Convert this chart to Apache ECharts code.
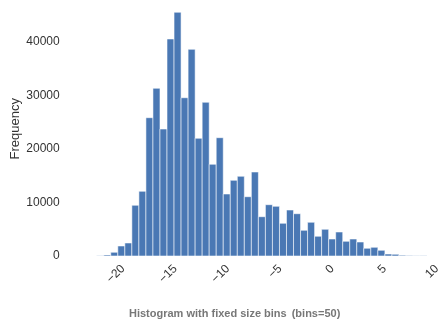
<!DOCTYPE html>
<html>
<head>
<meta charset="utf-8">
<script src="https://cdn.jsdelivr.net/npm/echarts@6/dist/echarts.min.js"></script>
<style>
  html, body { margin: 0; padding: 0; background: #fff; }
  #chart { width: 443px; height: 320px; }
</style>
</head>
<body>
<div id="chart"></div>
<script>
// fixed size bins (bins=50)
const binStart = -23.47
const binWidth = 0.672
const counts = [
  10, 40, 200, 690, 1870, 2430, 9460, 12070, 25800, 31290,
  23690, 40490, 45470, 29530, 38560, 21960, 28680, 17110, 22070, 11570,
  14120, 14870, 11060, 15670, 7330, 9570, 9270, 6100, 8580, 7890,
  4790, 6290, 3680, 4980, 3170, 4480, 2740, 3170, 2610, 1440,
  1620, 1060, 370, 320, 150, 90, 50, 25, 10, 5
]
const xTicks = [-20, -15, -10, -5, 0, 5, 10]
const yTicks = [0, 10000, 20000, 30000, 40000]

const bins = counts.map((c, i) => [binStart + i * binWidth, binStart + (i + 1) * binWidth, c])

const chart = echarts.init(document.getElementById('chart'), null, { renderer: 'canvas' })

const font = '"Liberation Sans", Arial, sans-serif'

chart.setOption({
  animation: false,
  title: {
    text: '{b|Histogram with fixed size bins} {n|(bins=50)}',
    left: 124,
    top: 300,
    textStyle: {
      rich: {
        b: { fontFamily: font, fontSize: 11, fontWeight: 'bold', color: '#777' },
        n: { fontFamily: font, fontSize: 11, color: '#777' }
      }
    }
  },
  grid: {
    left: 73.7,
    right: 0.1,
    top: 1.4,
    bottom: 64,
    outerBoundsMode: 'none'
  },
  xAxis: {
    type: 'value',
    min: -25,
    max: 10.3,
    interval: 5,
    axisLine: { show: false },
    axisTick: { show: false },
    splitLine: { show: false },
    axisLabel: {
      rotate: 45,
      margin: 8,
      padding: [0, 4, 0, 0],
      fontFamily: font,
      fontSize: 12,
      color: '#333',
      formatter: v => xTicks.indexOf(v) >= 0 ? String(v).replace('-', '\u2212') : ''
    }
  },
  yAxis: {
    type: 'value',
    min: 0,
    max: 47500,
    interval: 10000,
    name: 'Frequency',
    nameLocation: 'middle',
    nameRotate: 90,
    nameGap: 52,
    nameMoveOverlap: false,
    nameTextStyle: { fontFamily: font, fontSize: 13, color: '#333' },
    axisLine: { show: false },
    axisTick: { show: false },
    splitLine: { show: false },
    axisLabel: {
      margin: 14,
      fontFamily: font,
      fontSize: 12,
      color: '#333',
      formatter: v => yTicks.indexOf(v) >= 0 ? String(v) : ''
    }
  },
  series: [{
    type: 'custom',
    data: bins,
    clip: true,
    renderItem: (params, api) => {
      const p0 = api.coord([api.value(0), api.value(2)])
      const p1 = api.coord([api.value(1), 0])
      return {
        type: 'rect',
        shape: { x: p0[0], y: p0[1], width: p1[0] - p0[0], height: p1[1] - p0[1] },
        style: {
          fill: '#4a78b4',
          stroke: 'rgba(255,255,255,0.55)',
          lineWidth: 1
        }
      }
    }
  }]
})
</script>
</body>
</html>
